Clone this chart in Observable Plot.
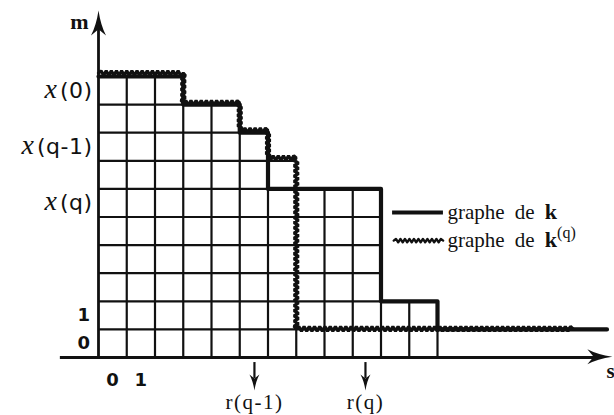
<!DOCTYPE html>
<html><head><meta charset="utf-8">
<script src="https://cdn.jsdelivr.net/npm/d3@7"></script>
<script src="https://cdn.jsdelivr.net/npm/@observablehq/plot@0.6"></script>
<style>body{margin:0;background:#fff} svg{display:block}</style>
</head><body><div id="chart"></div>
<script>
// ---- data (grid units: s horizontally, m vertically) ----
const gridCols = 12;
const gridRows = 10;
const kBreaks  = [0, 3, 5, 6, 10, 12, 18];
const kLevels  = [10, 9, 8, 6, 2, 1];
const kqBreaks = [0, 3, 5, 6, 7, 16.8];
const kqLevels = [10.12, 9.06, 8.08, 7.1, 1.02];
const yMathLabels = ["x(0)", "x(q-1)", "x(q)"];
const yMathPos    = [9.5, 7.5, 5.5];
const yNumLabels  = ["1", "0"];
const yNumPos     = [1.5, 0.5];
const xNumLabels  = ["0", "1"];
const xNumPos     = [0.5, 1.5];
const rLabels     = ["r(q-1)", "r(q)"];
const rPos        = [5.52, 9.45];
const legendLabels = ["graphe de k", "graphe de k(q)"];
const legendLevels = [5.16, 4.16];

// ---- derived tables ----
const W = 614, H = 415, X0 = 98, UX = 28.25, Y0 = 357, UY = 28.1;
const stepAt = (br, lv) => s => { for (let i = 0; i < lv.length; i++) if (s >= br[i] && s < br[i+1]) return lv[i]; return 0; };
const kAt = stepAt(kBreaks, kLevels), kqAt = stepAt(kqBreaks, kqLevels);
const env = d3.range(gridCols).map(c => Math.round(Math.max(kAt(c + 0.5), kqAt(c + 0.5))));
const vGrid = d3.range(1, gridCols + 1).map(c => ({c, h: Math.max(env[c-1], c < gridCols ? env[c] : 0)}));
const hGrid = d3.range(1, gridRows + 1).map(L => ({L, w: env.filter(e => e >= L).length}));
const kPts = kLevels.map((m, i) => ({s: kBreaks[i], m})).concat([{s: kBreaks[kBreaks.length-1], m: kLevels[kLevels.length-1]}]);
const kqPts = kqLevels.flatMap((m, i) => [{s: kqBreaks[i], m}, {s: kqBreaks[i+1], m}]);
const yMath = yMathLabels.map((t, i) => ({t, m: yMathPos[i]}));
const yNum = yNumLabels.map((t, i) => ({t, m: yNumPos[i]}));
const xNum = xNumLabels.map((t, i) => ({t, s: xNumPos[i]}));
const rMarks = rLabels.map((t, i) => ({t, s: rPos[i]}));
const legend = legendLabels.map((t, i) => ({t, m: legendLevels[i]}));

// ---- styles: zigzag curve (line style) and arrowhead symbols ----
function zigzag(amp, step) {
  return function(context) {
    let x0, y0, started = false, k = 0;
    return {
      areaStart() {}, areaEnd() {},
      lineStart() { started = false; k = 0; },
      lineEnd() {},
      point(x, y) {
        x = +x; y = +y;
        if (!started) { context.moveTo(x, y); started = true; }
        else {
          const dx = x - x0, dy = y - y0, L = Math.hypot(dx, dy);
          if (L > 0) {
            const n = Math.max(1, Math.round(L / step));
            const nx = -dy / L, ny = dx / L;
            for (let i = 1; i <= n; i++) {
              const t = i / n;
              if (i < n) {
                const a = (k++ % 2 ? 1 : -1) * amp;
                context.lineTo(x0 + dx * t + nx * a, y0 + dy * t + ny * a);
              } else context.lineTo(x, y);
            }
          }
        }
        x0 = x; y0 = y;
      }
    };
  };
}
function arrowHead(angle, len, hw) {
  const th = angle * Math.PI / 180, c = Math.cos(th), s = Math.sin(th);
  const R = (x, y) => [x * c - y * s, x * s + y * c];
  return {draw(ctx) {
    const p = (f, ...xy) => { const out = []; for (let i = 0; i < xy.length; i += 2) out.push(...R(xy[i], xy[i+1])); ctx[f](...out); };
    p("moveTo", 0, 0);
    p("quadraticCurveTo", hw * 0.3, len * 0.6, hw, len);
    p("lineTo", 0, len * 0.75);
    p("lineTo", -hw, len);
    p("quadraticCurveTo", -hw * 0.3, len * 0.6, 0, 0);
    ctx.closePath();
  }};
}

const ink = "#111";
const serif = "Liberation Serif", sans = "DejaVu Sans";

const chart = Plot.plot({
  width: W, height: H, margin: 0,
  x: {domain: [-X0 / UX, (W - X0) / UX], axis: null},
  y: {domain: [-(H - Y0) / UY, Y0 / UY], axis: null},
  style: {background: "#fff", color: ink},
  marks: [
    Plot.ruleX(vGrid, {x: "c", y1: 0, y2: "h", stroke: ink, strokeWidth: 2.2}),
    Plot.ruleY(hGrid, {y: "L", x1: 0, x2: "w", stroke: ink, strokeWidth: 2.2}),
    Plot.line(kPts, {x: "s", y: "m", curve: "step-after", stroke: ink, strokeWidth: 4.2, strokeLinejoin: "round"}),
    Plot.line(kqPts, {x: "s", y: "m", curve: zigzag(2.3, 2.6), stroke: ink, strokeWidth: 3.2, strokeLinejoin: "miter"}),
    // axes
    Plot.ruleX([0], {y1: 0, y2: 11.9, stroke: ink, strokeWidth: 2.8}),
    Plot.ruleY([0], {x1: -1.35, x2: 17.8, stroke: ink, strokeWidth: 2.8}),
    Plot.dot([{s: 0, m: 12.35}], {x: "s", y: "m", symbol: arrowHead(0, 25, 7.5), fill: ink, stroke: "none"}),
    Plot.dot([{s: 18.19, m: 0.03}], {x: "s", y: "m", symbol: arrowHead(90, 25, 7.5), fill: ink, stroke: "none"}),
    Plot.text(["m"], {x: -0.35, y: 11.95, text: d => d, textAnchor: "end", fontFamily: serif, fontSize: 22, fontWeight: "bold"}),
    Plot.text(["s"], {x: 18.27, y: -0.5, text: d => d, textAnchor: "end", fontFamily: serif, fontSize: 21, fontWeight: "bold"}),
    // tick labels
    Plot.text(yMath, {x: -0.21, y: "m", text: "t", textAnchor: "end", fontFamily: sans, fontSize: 22, className: "ymath"}),
    Plot.text(yNum, {x: -0.3, y: "m", text: "t", textAnchor: "end", fontFamily: sans, fontSize: 18, fontWeight: 600}),
    Plot.text(xNum, {x: "s", y: -0.82, text: "t", fontFamily: sans, fontSize: 18, fontWeight: 600}),
    // r markers
    Plot.ruleX(rMarks, {x: "s", y1: -0.18, y2: -0.75, stroke: ink, strokeWidth: 2.2}),
    Plot.dot(rMarks, {x: "s", y: -1.17, symbol: arrowHead(180, 16, 5), fill: ink, stroke: "none"}),
    Plot.text(rMarks, {x: "s", y: -1.6, text: "t", fontFamily: serif, fontSize: 21, className: "rlab"}),
    // legend
    Plot.ruleY([legendLevels[0]], {x1: 10.41, x2: 12.21, stroke: ink, strokeWidth: 4.2}),
    Plot.line([{s: 10.45, m: legendLevels[1]}, {s: 12.2, m: legendLevels[1]}], {x: "s", y: "m", curve: zigzag(1.7, 2.2), stroke: ink, strokeWidth: 2.4}),
    Plot.text(legend, {x: 12.35, y: "m", text: "t", textAnchor: "start", fontFamily: serif, fontSize: 21, className: "leg"})
  ]
});
document.getElementById("chart").append(chart);

// rich text styling
const NS = "http://www.w3.org/2000/svg";
const tspan = (txt, attrs) => { const e = document.createElementNS(NS, "tspan"); e.textContent = txt; for (const k in attrs) e.setAttribute(k, attrs[k]); return e; };
chart.querySelectorAll(".ymath text").forEach(t => {
  const s = t.textContent; t.textContent = "";
  t.append(tspan(s[0], {"font-family": serif, "font-style": "italic", "font-size": 28}),
           tspan(s.slice(1), {"dx": 3, "letter-spacing": 0.5}));
});
chart.querySelectorAll(".rlab text").forEach(t => t.setAttribute("letter-spacing", 1.5));
chart.querySelectorAll(".leg text").forEach(t => {
  const s = t.textContent; const m = s.match(/^(.*?)(k)(\(q\))?$/);
  t.textContent = ""; t.setAttribute("word-spacing", 5);
  t.append(tspan(m[1], {}), tspan(m[2], {"font-weight": "bold", "font-size": 22}));
  if (m[3]) t.append(tspan(m[3], {"font-size": 16, "dy": -9}));
});
</script></body></html>
